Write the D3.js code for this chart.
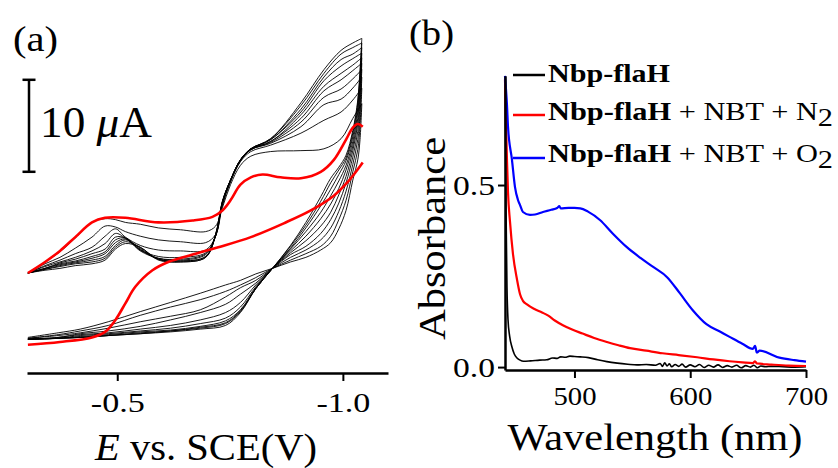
<!DOCTYPE html>
<html>
<head>
<meta charset="utf-8">
<script src="https://cdn.jsdelivr.net/npm/d3@7"></script>
<style>
  body { margin: 0; background: #fff; }
  text { font-family: "Liberation Serif", "Times New Roman", serif; fill: #000; }
</style>
</head>
<body>
<div class="container"></div>
<script>
/* ===== DATA: panel (a) cyclic voltammograms, E in V vs SCE, current in uA (relative) ===== */
var cvFwdE = [-0.302, -0.34, -0.373, -0.407, -0.444, -0.473, -0.496, -0.518, -0.551, -0.591, -0.64,
  -0.696, -0.718, -0.733, -0.751, -0.773, -0.796, -0.84, -0.907, -0.958, -0.996, -1.022, -1.042];
var cvRevE = [-1.042, -1.038, -1.033, -1.022, -1.007, -0.991, -0.973, -0.951, -0.918, -0.884, -0.844,
  -0.807, -0.773, -0.74, -0.684, -0.618, -0.551, -0.48, -0.418, -0.369, -0.302];

// black cycles, forward sweeps
var cvFwd = [
  [0, 1.2, 2.3, 3.8, 5.5, 5.9, 5.8, 5.5, 5.3, 4.9, 4.7, 4.5, 5.1, 7.1, 9.6, 11.7, 12.7, 13.2, 13.3, 13.5, 14.6, 16.8, 18.4],
  [0, 1.0, 1.7, 2.7, 3.9, 5.1, 5.0, 4.5, 4.0, 3.6, 3.4, 3.3, 4.2, 7.3, 9.9, 12.1, 13.2, 13.9, 15.2, 16.6, 17.5, 18.8, 20.1],
  [0, 0.8, 1.4, 2.1, 2.8, 4.0, 4.8, 3.9, 3.0, 2.5, 2.4, 2.5, 4.0, 7.5, 10.0, 12.2, 13.4, 14.1, 15.9, 18.3, 18.9, 20.1, 21.3],
  [0, 0.7, 1.2, 1.7, 2.4, 3.2, 4.3, 3.8, 2.5, 1.8, 1.7, 2.2, 4.0, 7.6, 10.0, 12.2, 13.4, 14.2, 16.4, 19.1, 20.0, 21.1, 22.1],
  [0, 0.5, 1.1, 1.5, 2.1, 2.6, 3.9, 3.8, 2.4, 1.6, 1.5, 2.1, 4.0, 7.6, 10.0, 12.2, 13.4, 14.3, 16.8, 19.8, 21.0, 22.0, 22.8],
  [0, 0.5, 1.0, 1.3, 1.8, 2.3, 3.6, 3.8, 2.5, 1.6, 1.4, 2.0, 4.1, 7.7, 10.1, 12.3, 13.5, 14.3, 17.2, 20.3, 21.7, 22.6, 23.4],
  [0, 0.5, 0.9, 1.2, 1.6, 2.1, 3.3, 3.7, 2.6, 1.5, 1.3, 1.8, 4.1, 7.7, 10.1, 12.3, 13.5, 14.5, 17.5, 20.9, 22.5, 23.3, 23.9],
  [0, 0.4, 0.8, 1.1, 1.4, 1.8, 3.0, 3.6, 2.7, 1.5, 1.3, 1.8, 4.1, 7.7, 10.1, 12.3, 13.5, 14.5, 17.8, 21.3, 23.2, 23.8, 24.5],
  [0, 0.4, 0.7, 1.0, 1.2, 1.6, 2.8, 3.4, 2.8, 1.5, 1.2, 1.7, 4.2, 7.8, 10.1, 12.3, 13.5, 14.6, 18.2, 21.7, 23.8, 24.5, 25.0],
  [0, 0.3, 0.5, 0.8, 1.0, 1.4, 2.6, 3.2, 2.8, 1.4, 1.2, 1.7, 4.2, 7.8, 10.1, 12.3, 13.5, 14.6, 18.5, 22.1, 24.2, 25.0, 25.5]
];
// black cycles, reverse sweeps
var cvRev = [
  [18.4, 14.5, 12.3, 10.1, 6.8, 4.8, 3.3, 2.5, 1.7, 1.2, 0.5, -0.1, -0.8, -1.3, -2.2, -3.2, -4.2, -5.3, -6.1, -6.5, -7.0],
  [20.1, 16.1, 13.4, 11.0, 7.9, 5.8, 4.0, 2.9, 2.1, 1.4, 0.5, -0.5, -1.3, -2.0, -2.9, -3.7, -4.6, -5.7, -6.3, -6.7, -7.1],
  [21.3, 17.2, 14.5, 11.8, 8.9, 6.7, 4.9, 3.6, 2.5, 1.7, 0.5, -0.8, -1.6, -2.6, -4.0, -4.7, -5.3, -6.0, -6.5, -6.8, -7.1],
  [22.1, 18.3, 15.4, 12.6, 9.8, 7.6, 5.8, 4.3, 2.9, 2.0, 0.5, -1.1, -2.3, -3.4, -4.3, -5.1, -5.8, -6.3, -6.6, -7.0, -7.2],
  [22.8, 19.1, 16.2, 13.3, 10.5, 8.5, 6.6, 5.1, 3.5, 2.2, 0.5, -1.3, -3.2, -4.3, -5.1, -5.7, -6.1, -6.5, -6.7, -7.0, -7.2],
  [23.4, 19.9, 16.8, 13.8, 11.2, 9.2, 7.5, 5.9, 4.0, 2.4, 0.5, -1.5, -3.7, -4.9, -5.5, -6.0, -6.3, -6.6, -6.8, -7.1, -7.2],
  [23.9, 20.5, 17.5, 14.3, 11.7, 10.0, 8.4, 6.6, 4.5, 2.6, 0.5, -1.6, -4.0, -5.2, -5.8, -6.2, -6.4, -6.7, -6.9, -7.1, -7.2],
  [24.5, 21.1, 18.0, 14.8, 12.2, 10.7, 9.1, 7.3, 4.9, 2.7, 0.5, -1.7, -4.1, -5.4, -5.9, -6.3, -6.5, -6.8, -7.0, -7.1, -7.2],
  [25.0, 21.6, 18.5, 15.2, 12.5, 11.2, 9.8, 7.8, 5.2, 2.9, 0.5, -1.7, -4.2, -5.5, -6.0, -6.3, -6.6, -6.8, -7.0, -7.1, -7.2],
  [25.5, 22.1, 18.8, 15.5, 12.8, 11.5, 10.3, 8.3, 5.5, 3.0, 0.5, -1.7, -4.3, -5.7, -6.1, -6.4, -6.6, -6.8, -7.0, -7.1, -7.2]
];

// red scan
var redFwdE = [-0.302, -0.34, -0.373, -0.407, -0.444, -0.473, -0.518, -0.591, -0.667, -0.711, -0.733, -0.751,
  -0.773, -0.796, -0.822, -0.862, -0.907, -0.951, -0.98, -1.007, -1.022, -1.033, -1.044];
var redFwdI = [0, 1.2, 2.4, 3.9, 5.5, 6.0, 6.0, 5.5, 5.7, 6.1, 6.8, 7.9, 9.6, 10.4, 10.7, 10.4, 10.3, 11.0, 12.3, 14.5, 15.8, 16.2, 15.9];
var redRevE = [-1.044, -1.029, -1.011, -0.98, -0.929, -0.869, -0.796, -0.724, -0.667, -0.613, -0.578, -0.54,
  -0.518, -0.496, -0.473, -0.444, -0.373, -0.302];
var redRevI = [12.0, 11.0, 9.9, 8.4, 6.8, 5.4, 3.9, 2.8, 2.0, 1.2, 0.3, -1.5, -3.3, -5.1, -6.4, -7.0, -7.5, -7.8];

var cvTicks = [-0.5, -1.0];

/* ===== DATA: panel (b) absorption spectra ===== */
var blackNm = [440, 440.8, 441.7, 442.6, 444, 446, 448, 450.4, 453, 456, 462, 470, 476, 481, 485, 488, 492, 496, 500,
  505, 512, 520, 528, 537, 546, 554, 562, 570, 574, 576, 578, 580, 582, 584, 587, 590, 593, 596, 600, 604, 608, 612,
  616, 620, 624, 628, 632, 636, 640, 644, 648, 652, 655, 658, 661, 665, 670, 680, 690, 700];
var blackAbs = [0.78, 0.45, 0.22, 0.13, 0.085, 0.055, 0.036, 0.025, 0.019, 0.016, 0.017, 0.019, 0.02, 0.025, 0.024,
  0.028, 0.027, 0.03, 0.029, 0.028, 0.026, 0.02, 0.015, 0.011, 0.008, 0.006, 0.007, 0.005, 0.01, 0.002, 0.012, 0.003,
  0.009, 0.001, 0.007, 0.002, 0.008, 0.0, 0.006, 0.001, 0.007, -0.001, 0.005, 0.0, 0.006, -0.001, 0.004, 0.0, 0.005,
  -0.002, 0.004, 0.0, 0.005, -0.002, 0.003, 0.001, 0.002, 0.001, 0.0, 0.001];

var redNm = [440, 441, 441.7, 442.6, 444.3, 446.9, 450.4, 453, 455.5, 459, 465, 472, 477, 483, 490, 498, 507, 517,
  528, 538, 548, 562, 576, 590, 606, 620, 634, 645, 654, 656, 657.6, 670, 685, 700];
var redAbs = [0.79, 0.65, 0.57, 0.48, 0.40, 0.31, 0.24, 0.20, 0.182, 0.172, 0.160, 0.150, 0.142, 0.128, 0.115, 0.103,
  0.092, 0.080, 0.069, 0.060, 0.052, 0.045, 0.038, 0.033, 0.027, 0.021, 0.016, 0.013, 0.011, 0.016, 0.010, 0.007,
  0.004, 0.003];

var blueNm = [440, 441.7, 442.6, 446, 448.6, 451.2, 453, 455.5, 461.6, 466, 472.8, 480, 485, 487, 488, 495, 500, 505,
  511.7, 522, 533, 545, 557, 568, 580, 591, 602, 614, 626, 634, 645, 654, 656, 657.5, 660, 677, 690, 700];
var blueAbs = [0.80, 0.72, 0.66, 0.57, 0.495, 0.459, 0.445, 0.426, 0.418, 0.419, 0.426, 0.432, 0.437, 0.442, 0.436,
  0.437, 0.437, 0.436, 0.427, 0.404, 0.367, 0.33, 0.30, 0.275, 0.247, 0.203, 0.157, 0.118, 0.097, 0.083, 0.064, 0.050,
  0.058, 0.040, 0.045, 0.026, 0.019, 0.015];

var nmTicks = [500, 600, 700];
var absTicks = [0.0, 0.5];

/* ===== SET UP ===== */
var svg = d3.select('.container').append('svg')
  .attr('width', 838).attr('height', 468);

function label(parent, x, y, size, len, anchor) {
  return parent.append('text')
    .attr('x', x).attr('y', y)
    .attr('font-size', size)
    .attr('text-anchor', anchor || 'start')
    .attr('textLength', len)
    .attr('lengthAdjust', 'spacingAndGlyphs');
}

function styleAxis(ax, size, len) {
  ax.attr('font-family', null).attr('font-size', null);
  ax.select('.domain').attr('stroke-width', 2.5);
  ax.selectAll('.tick line').attr('stroke-width', 2);
  ax.selectAll('.tick text')
    .attr('font-size', size)
    .attr('fill', '#000')
    .attr('textLength', len)
    .attr('lengthAdjust', 'spacingAndGlyphs');
}

/* ===== PANEL (a) ===== */
var gA = svg.append('g');
var xA = d3.scaleLinear().domain([-0.3, -1.1]).range([27, 388]);
var yA = d3.scaleLinear().domain([0, 10]).range([273, 181]);

var cvLine = d3.line().curve(d3.curveCatmullRom.alpha(0.5));

function cvPath(es, is) {
  return cvLine(es.map(function(e, i) { return [xA(e), yA(is[i])]; }));
}

cvFwd.forEach(function(c, k) {
  gA.append('path').attr('d', cvPath(cvFwdE, c))
    .attr('fill', 'none').attr('stroke', '#000').attr('stroke-width', 0.9);
  gA.append('path').attr('d', cvPath(cvRevE, cvRev[k]))
    .attr('fill', 'none').attr('stroke', '#000').attr('stroke-width', 0.9);
});

gA.append('path').attr('d', cvPath(redFwdE, redFwdI))
  .attr('fill', 'none').attr('stroke', '#ff0000').attr('stroke-width', 2.6);
gA.append('path').attr('d', cvPath(redRevE, redRevI))
  .attr('fill', 'none').attr('stroke', '#ff0000').attr('stroke-width', 2.6);

var axA = gA.append('g')
  .attr('transform', 'translate(0,373)')
  .call(d3.axisBottom(xA).tickValues(cvTicks).tickSize(8).tickSizeOuter(0)
    .tickFormat(function(d) { return d.toFixed(1); }));
styleAxis(axA, 27, 54);
axA.selectAll('.tick text').attr('y', 39).attr('dy', null);

// scale bar 10 uA
var barX = 29;
gA.append('line').attr('x1', barX).attr('x2', barX).attr('y1', yA(11)).attr('y2', yA(21))
  .attr('stroke', '#000').attr('stroke-width', 2.5);
[11, 21].forEach(function(v) {
  gA.append('line').attr('x1', barX - 6.5).attr('x2', barX + 6.5).attr('y1', yA(v)).attr('y2', yA(v))
    .attr('stroke', '#000').attr('stroke-width', 2.5);
});
var sb = label(gA, 40, 137, 44, 112);
sb.append('tspan').text('10 ');
sb.append('tspan').attr('font-style', 'italic').text('\u03bc');
sb.append('tspan').text('A');

label(gA, 13, 51, 36, 45).text('(a)');

var xtA = label(gA, 206, 460, 38, 222, 'middle');
xtA.append('tspan').attr('font-style', 'italic').text('E');
xtA.append('tspan').text(' vs. SCE(V)');

/* ===== PANEL (b) ===== */
var gB = svg.append('g');
var xB = d3.scaleLinear().domain([440, 700]).range([505, 806]);
var yB = d3.scaleLinear().domain([-0.008, 0.8]).range([370, 75.8]);

var specLine = d3.line().curve(d3.curveMonotoneX);
function specPath(nm, a) {
  return specLine(nm.map(function(w, i) { return [xB(w), yB(a[i])]; }));
}

gB.append('path').attr('d', specPath(blackNm, blackAbs))
  .attr('fill', 'none').attr('stroke', '#000').attr('stroke-width', 1.6);
gB.append('path').attr('d', specPath(redNm, redAbs))
  .attr('fill', 'none').attr('stroke', '#ff0000').attr('stroke-width', 2.2);
gB.append('path').attr('d', specPath(blueNm, blueAbs))
  .attr('fill', 'none').attr('stroke', '#0000ff').attr('stroke-width', 2.2);

var axBx = gB.append('g')
  .attr('transform', 'translate(0,370)')
  .call(d3.axisBottom(xB).tickValues(nmTicks).tickSize(8).tickSizeOuter(0));
styleAxis(axBx, 26, 43);
axBx.selectAll('.tick text').attr('y', 35).attr('dy', null);

var axBy = gB.append('g')
  .attr('transform', 'translate(505,0)')
  .call(d3.axisLeft(yB).tickValues(absTicks).tickSize(7).tickSizeOuter(0)
    .tickFormat(function(d) { return d.toFixed(1); }));
styleAxis(axBy, 27, 42);
axBy.selectAll('.tick text').attr('x', -10).attr('dy', '0.34em');

label(gB, 655, 450, 38, 295, 'middle').text('Wavelength (nm)');
label(gB, 0, 0, 38, 203, 'middle')
  .attr('transform', 'translate(445,238.5) rotate(-90)')
  .text('Absorbance');

label(gB, 409, 45, 36, 45).text('(b)');

// legend
var legColors = ['#000', '#ff0000', '#0000ff'];
var legTail = ['', ' + NBT + N', ' + NBT + O'];
var legLineY = [75, 115, 158];
var legTextY = [82, 120, 162];
legColors.forEach(function(c, i) {
  gB.append('line').attr('x1', 513).attr('x2', 545).attr('y1', legLineY[i]).attr('y2', legLineY[i])
    .attr('stroke', c).attr('stroke-width', 2.5);
  var t = label(gB, 548, legTextY[i], 26, i === 0 ? 122 : 285);
  t.append('tspan').attr('font-weight', 'bold').text('Nbp-flaH');
  if (i > 0) {
    t.append('tspan').text(legTail[i]);
    t.append('tspan').attr('dy', 6).text('2');
  }
});
</script>
</body>
</html>
